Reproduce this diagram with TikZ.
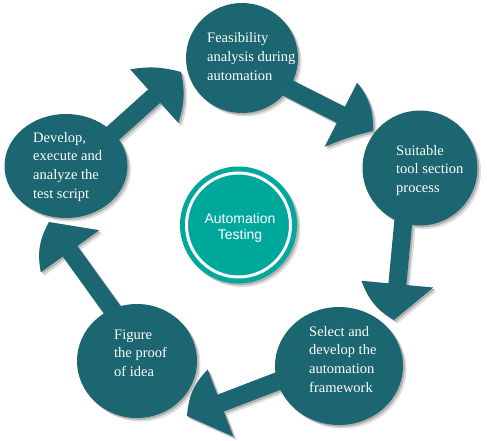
\documentclass[tikz,border=0pt]{standalone}
\usepackage{fontspec}
\setmainfont{Liberation Serif}
\newfontfamily\sansf{Liberation Sans}
\usetikzlibrary{calc,shapes.geometric}
\definecolor{dteal}{HTML}{1B6670}
\definecolor{cteal}{HTML}{00A89C}
\pgfdeclarelayer{shad}
\pgfdeclarelayer{arr}
\pgfsetlayers{shad,arr,main}
\tikzset{
  bub/.style={ellipse, fill=dteal, inner sep=0pt},
  sz1/.style={minimum width=112pt, minimum height=110pt},
  sz2/.style={minimum width=115pt, minimum height=115pt},
  sz3/.style={minimum width=128pt, minimum height=118pt},
  sz4/.style={minimum width=120pt, minimum height=114pt},
  sz5/.style={minimum width=123pt, minimum height=104pt},
  szc/.style={circle, minimum size=117pt, inner sep=0pt},
  lbl/.style={text=white, inner sep=0pt, anchor=base west, font=\fontsize{14.5}{18.7}\selectfont},
  shaftpaint/.style={draw=dteal},
  headpaint/.style={fill=dteal},
}
% #1 start anchor, #2 tip, #3 bend of left side, #4 bend of right side, #5 prefix
\newcommand\fatarrow[5]{%
  \coordinate (#5m) at ($(#2)!36pt!(#1)$);
  \coordinate (#5a) at ($(#5m)!36pt!90:(#2)$);
  \coordinate (#5b) at ($(#5m)!36pt!-90:(#2)$);
  \draw[shaftpaint, line width=18pt, shorten <=-10pt] (#1) -- ($(#2)!32pt!(#1)$);
  \fill[headpaint] (#5a) to[bend left=#3] (#2) to[bend left=#4] (#5b) -- cycle;
}
\newcommand\allarrows{%
  \fatarrow{c1.-33}{h1}{20}{-5}{q1}
  \fatarrow{c2.-107}{h2}{0}{20}{q2}
  \fatarrow{c3.194}{h3}{0}{20}{q3}
  \fatarrow{c4.116}{h4}{20}{0}{q4}
  \fatarrow{c5.35}{h5}{12}{15}{q5}
}
\begin{document}
\begin{tikzpicture}[x=1pt,y=1pt]
\useasboundingbox (0,0) rectangle (487,440);
% bubbles
\node[bub, sz1] (c1) at (242,382) {};
\node[bub, sz2] (c2) at (420,272) {};
\node[bub, sz3] (c3) at (339,74) {};
\node[bub, sz4] (c4) at (137,79) {};
\node[bub, sz5] (c5) at (66,274) {};
\node[szc, fill=cteal] (ctr) at (238.5,215) {};
\node[circle, draw=white, line width=3pt, minimum size=104pt, inner sep=0pt] (ring) at (ctr) {};
% arrow tips
\coordinate (h1) at (373,309);
\coordinate (h2) at (394,120);
\coordinate (h3) at (187,24);
\coordinate (h4) at (49,218);
\coordinate (h5) at (181,368);
% arrows
\begin{pgfonlayer}{arr}
  \allarrows
\end{pgfonlayer}
% shadows
\begin{pgfonlayer}{shad}
  \begin{scope}[transform canvas={shift={(3.5pt,-3.5pt)}},
      shaftpaint/.style={draw=black!13}, headpaint/.style={fill=black!13}]
    \allarrows
    \node[bub, sz1, fill=black!13] (sa1) at (c1) {};
    \node[bub, sz2, fill=black!13] (sa2) at (c2) {};
    \node[bub, sz3, fill=black!13] (sa3) at (c3) {};
    \node[bub, sz4, fill=black!13] (sa4) at (c4) {};
    \node[bub, sz5, fill=black!13] (sa5) at (c5) {};
    \node[szc, fill=black!13] (sac) at (ctr) {};
  \end{scope}
  \begin{scope}[transform canvas={shift={(1.8pt,-1.8pt)}},
      shaftpaint/.style={draw=black!30}, headpaint/.style={fill=black!30}]
    \allarrows
    \node[bub, sz1, fill=black!30] (sb1) at (c1) {};
    \node[bub, sz2, fill=black!30] (sb2) at (c2) {};
    \node[bub, sz3, fill=black!30] (sb3) at (c3) {};
    \node[bub, sz4, fill=black!30] (sb4) at (c4) {};
    \node[bub, sz5, fill=black!30] (sb5) at (c5) {};
    \node[szc, fill=black!30] (sbc) at (ctr) {};
  \end{scope}
\end{pgfonlayer}
% labels
\node[lbl] (t1) at (207,397) {\begin{tabular}[t]{@{}l@{}}Feasibility\\analysis during\\automation\end{tabular}};
\node[lbl] (t2) at (396,285) {\begin{tabular}[t]{@{}l@{}}Suitable\\tool section\\process\end{tabular}};
\node[lbl] (t3) at (309,104) {\begin{tabular}[t]{@{}l@{}}Select and\\develop the\\automation\\framework\end{tabular}};
\node[lbl] (t4) at (114,101) {\begin{tabular}[t]{@{}l@{}}Figure\\the proof\\of idea\end{tabular}};
\node[lbl] (t5) at (33,298) {\begin{tabular}[t]{@{}l@{}}Develop,\\execute and\\analyze the\\test script\end{tabular}};
\node[text=white, inner sep=0pt, anchor=base, font=\sansf\fontsize{14}{16.5}\selectfont] (ct) at (240,217) {\begin{tabular}[t]{@{}c@{}}Automation\\Testing\end{tabular}};
\end{tikzpicture}
\end{document}
